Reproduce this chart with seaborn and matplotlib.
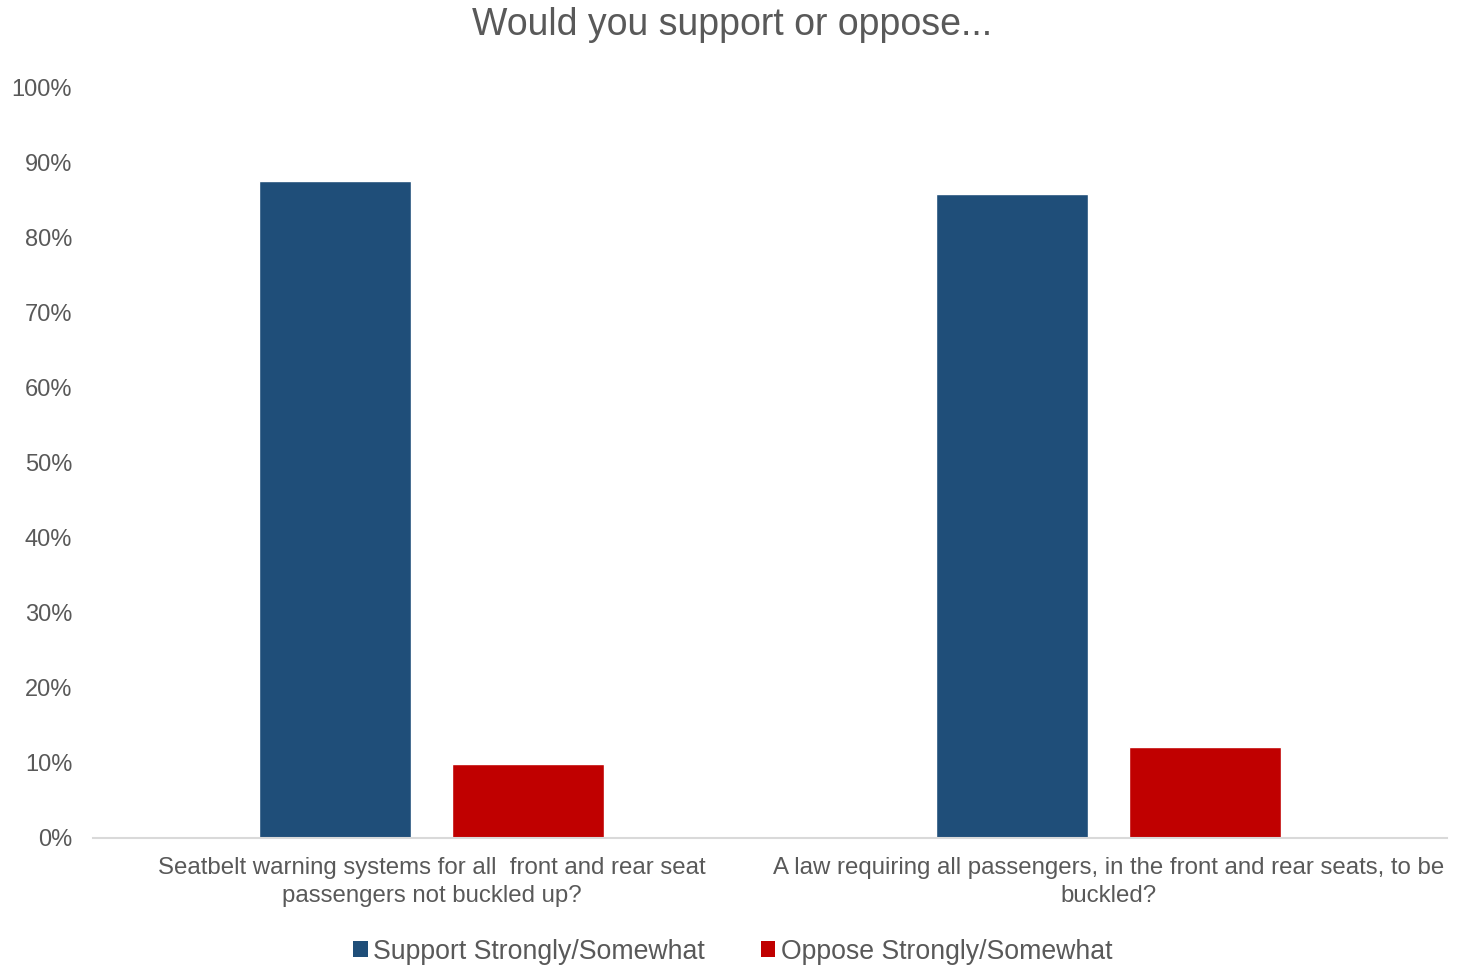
import matplotlib
matplotlib.use("Agg")
import matplotlib.pyplot as plt
import seaborn as sns
import pandas as pd
from matplotlib.ticker import PercentFormatter
from matplotlib.patches import Patch

questions = [
    "Seatbelt warning systems for all  front and rear seat\npassengers not buckled up?",
    "A law requiring all passengers, in the front and rear seats, to be\nbuckled?",
]
series = ["Support Strongly/Somewhat", "Oppose Strongly/Somewhat"]
support = [87.5, 85.8]
oppose = [9.8, 12.1]
colors = ["#1F4E79", "#C00000"]

df = pd.DataFrame({
    "question": questions * 2,
    "response": [series[0]] * 2 + [series[1]] * 2,
    "value": support + oppose,
})

sns.set_theme(style="white")
plt.rcParams["font.family"] = ["Liberation Sans", "DejaVu Sans"]
text_color = "#595959"

fig = plt.figure(figsize=(14.65, 9.68), dpi=100)
ax = fig.add_axes([0.0635, 0.1343, 0.9242, 0.7758])

sns.barplot(data=df, x="question", y="value", hue="response",
            palette=colors, width=0.57, gap=0.212, ax=ax,
            saturation=1, legend=False)

ax.set_ylim(0, 100)
ax.set_xlim(-0.5, 1.5)
ax.set_yticks(range(0, 101, 10))
ax.yaxis.set_major_formatter(PercentFormatter(decimals=0))
ax.set_xlabel("")
ax.set_ylabel("")
for s in ["top", "right", "left"]:
    ax.spines[s].set_visible(False)
ax.spines["bottom"].set_color("#D9D9D9")
ax.spines["bottom"].set_linewidth(1.5)
ax.tick_params(axis="y", labelsize=17, colors=text_color, length=0, pad=15)
ax.tick_params(axis="x", labelsize=17.3, colors=text_color, length=0, pad=14)
ax.set_xticks(range(len(questions)), questions, linespacing=1.3)

fig.suptitle("Would you support or oppose...", fontsize=27, color=text_color,
             y=0.993, va="top")

handles = [Patch(facecolor=c, edgecolor="none") for c in colors]
fig.legend(handles, series, loc="center", bbox_to_anchor=(0.5, 0.017),
           ncol=2, frameon=False, fontsize=19.2, labelcolor=text_color,
           handlelength=0.55, handleheight=0.55, handletextpad=0.2,
           columnspacing=2.1)

fig.savefig("out.png", dpi=100)
